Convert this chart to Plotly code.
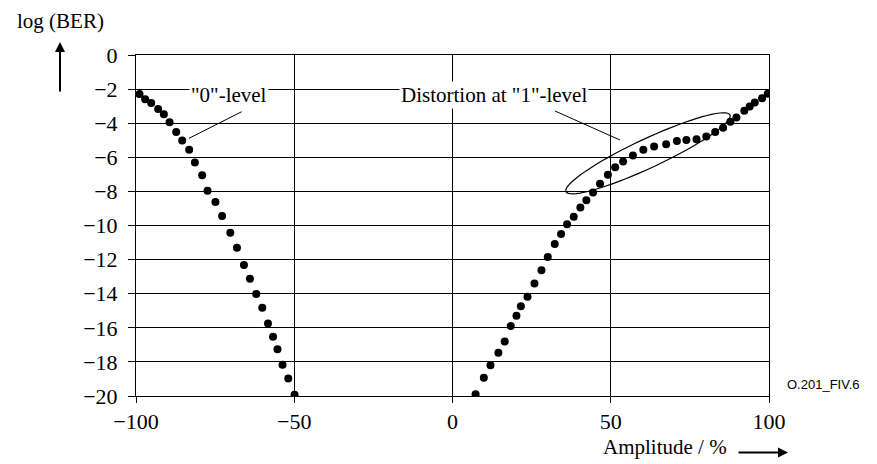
import numpy as np
import plotly.graph_objects as go

# "0"-level branch
x0 = [-98.9, -97.1, -95.2, -93.0, -91.2, -89.4, -87.3, -85.4, -83.2, -81.4, -79.1, -77.4, -74.9,
      -72.8, -70.2, -68.1, -65.9, -64.0, -62.0, -60.1, -58.3, -56.7, -55.3, -53.7, -51.9, -49.9]
y0 = [-2.29, -2.59, -2.82, -3.16, -3.47, -3.94, -4.52, -5.02, -5.55, -6.31, -7.05, -7.96, -8.62,
      -9.44, -10.42, -11.30, -12.32, -13.13, -14.02, -14.83, -15.75, -16.53, -17.26, -18.16, -18.98, -19.92]

# "1"-level branch
x1 = [7.3, 9.9, 12.0, 14.5, 16.5, 18.4, 20.2, 21.6, 23.7, 25.9, 28.1, 30.1, 32.3, 34.3, 36.2, 38.3,
      40.4, 42.3, 44.4, 46.6, 49.1, 51.4, 53.9, 57.0, 60.3, 63.7, 67.5, 70.9, 73.9, 77.1, 80.2, 83.0,
      85.5, 87.8, 89.7, 92.2, 93.9, 95.5, 97.8, 99.6]
y1 = [-19.9, -18.93, -18.2, -17.47, -16.8, -15.9, -15.3, -14.73, -14.18, -13.4, -12.63, -11.85,
      -11.09, -10.5, -9.93, -9.48, -8.95, -8.52, -8.07, -7.55, -7.03, -6.59, -6.24, -5.9, -5.56,
      -5.37, -5.23, -5.05, -4.99, -4.94, -4.78, -4.51, -4.27, -3.92, -3.67, -3.27, -3.02, -2.79,
      -2.53, -2.27]

x_ticks = [-100, -50, 0, 50, 100]
y_ticks = list(range(-20, 1, 2))

W, H = 877, 464
L, R, T, B = 136, 108, 55, 68
pw, ph = W - L - R, H - T - B


def px2data(px, py):
    return -100 + (px - L) / pw * 200, -(py - T) / ph * 20


def px2paper(px, py):
    return (px - L) / pw, (H - B - py) / ph


serif = "Liberation Serif"
fig = go.Figure()
fig.add_trace(go.Scatter(x=x0, y=y0, mode="markers", marker=dict(color="black", size=8),
                         showlegend=False))
fig.add_trace(go.Scatter(x=x1, y=y1, mode="markers", marker=dict(color="black", size=8),
                         showlegend=False))

# ellipse around distortion region (pixel geometry converted to data)
cx, cy, a, b = 648, 153.3, 90.5, 14.5
th = np.arctan2(76.7, 164)
t = np.linspace(0, 2 * np.pi, 73)
epx = cx + a * np.cos(th) * np.cos(t) - b * np.sin(th) * np.sin(t)
epy = cy - (a * np.sin(th) * np.cos(t) + b * np.cos(th) * np.sin(t))
pts = [px2data(u, v) for u, v in zip(epx, epy)]
path = "M " + " L ".join(f"{u:.3f},{v:.3f}" for u, v in pts) + " Z"
fig.add_shape(type="path", path=path, xref="x", yref="y", line=dict(color="black", width=1.2))

# leader lines
for (p1, p2) in [((241.7, 111.7), (189, 138.3)), ((555, 111), (620, 140))]:
    a1 = px2data(*p1)
    a2 = px2data(*p2)
    fig.add_shape(type="line", x0=a1[0], y0=a1[1], x1=a2[0], y1=a2[1], xref="x", yref="y",
                  line=dict(color="black", width=1))

ann = []
for txt, px, py in [('"0"-level', 229, 94.5), ('Distortion at "1"-level', 494, 94.5)]:
    dx, dy = px2data(px, py)
    ann.append(dict(x=dx, y=dy, xref="x", yref="y", text=txt, showarrow=False,
                    xanchor="center", yanchor="middle",
                    font=dict(family=serif, size=21, color="black"), bgcolor="white", borderpad=1))

xa, ya = px2paper(60, 21)
ann.append(dict(x=xa, y=ya, xref="paper", yref="paper", text="log (BER)", showarrow=False,
                xanchor="center", yanchor="middle",
                font=dict(family=serif, size=21, color="black")))
xa, ya = px2paper(60, 42)
ann.append(dict(x=xa, y=ya, xref="paper", yref="paper", text="", showarrow=True, ax=0, ay=51,
                arrowhead=2, arrowsize=1, arrowwidth=2, arrowcolor="black"))
xa, ya = px2paper(729, 447)
ann.append(dict(x=xa, y=ya, xref="paper", yref="paper", text="Amplitude / %", showarrow=False,
                xanchor="right", yanchor="middle",
                font=dict(family=serif, size=21, color="black")))
xa, ya = px2paper(788, 452.5)
ann.append(dict(x=xa, y=ya, xref="paper", yref="paper", text="", showarrow=True, ax=-51, ay=0,
                arrowhead=2, arrowsize=1, arrowwidth=2, arrowcolor="black"))
xa, ya = px2paper(785, 384)
ann.append(dict(x=xa, y=ya, xref="paper", yref="paper", text="O.201_FIV.6", showarrow=False,
                xanchor="left", yanchor="middle",
                font=dict(family="Liberation Sans", size=13, color="black")))

fig.update_layout(
    width=W, height=H, margin=dict(l=L, r=R, t=T, b=B),
    paper_bgcolor="white", plot_bgcolor="white",
    annotations=ann,
    xaxis=dict(range=[-100, 100], tickvals=x_ticks, showgrid=True, gridcolor="black", gridwidth=1,
               zeroline=False, showline=True, linecolor="black", linewidth=1, mirror=True,
               ticks="outside", ticklen=6, tickcolor="black",
               tickfont=dict(family=serif, size=22, color="black")),
    yaxis=dict(range=[-20, 0], tickvals=y_ticks, showgrid=True, gridcolor="black", gridwidth=1,
               zeroline=False, showline=True, linecolor="black", linewidth=1, mirror=True,
               ticks="outside", ticklen=7, tickcolor="black", ticklabelstandoff=6,
               tickfont=dict(family=serif, size=22, color="black")),
)
fig.write_html("out.html")
